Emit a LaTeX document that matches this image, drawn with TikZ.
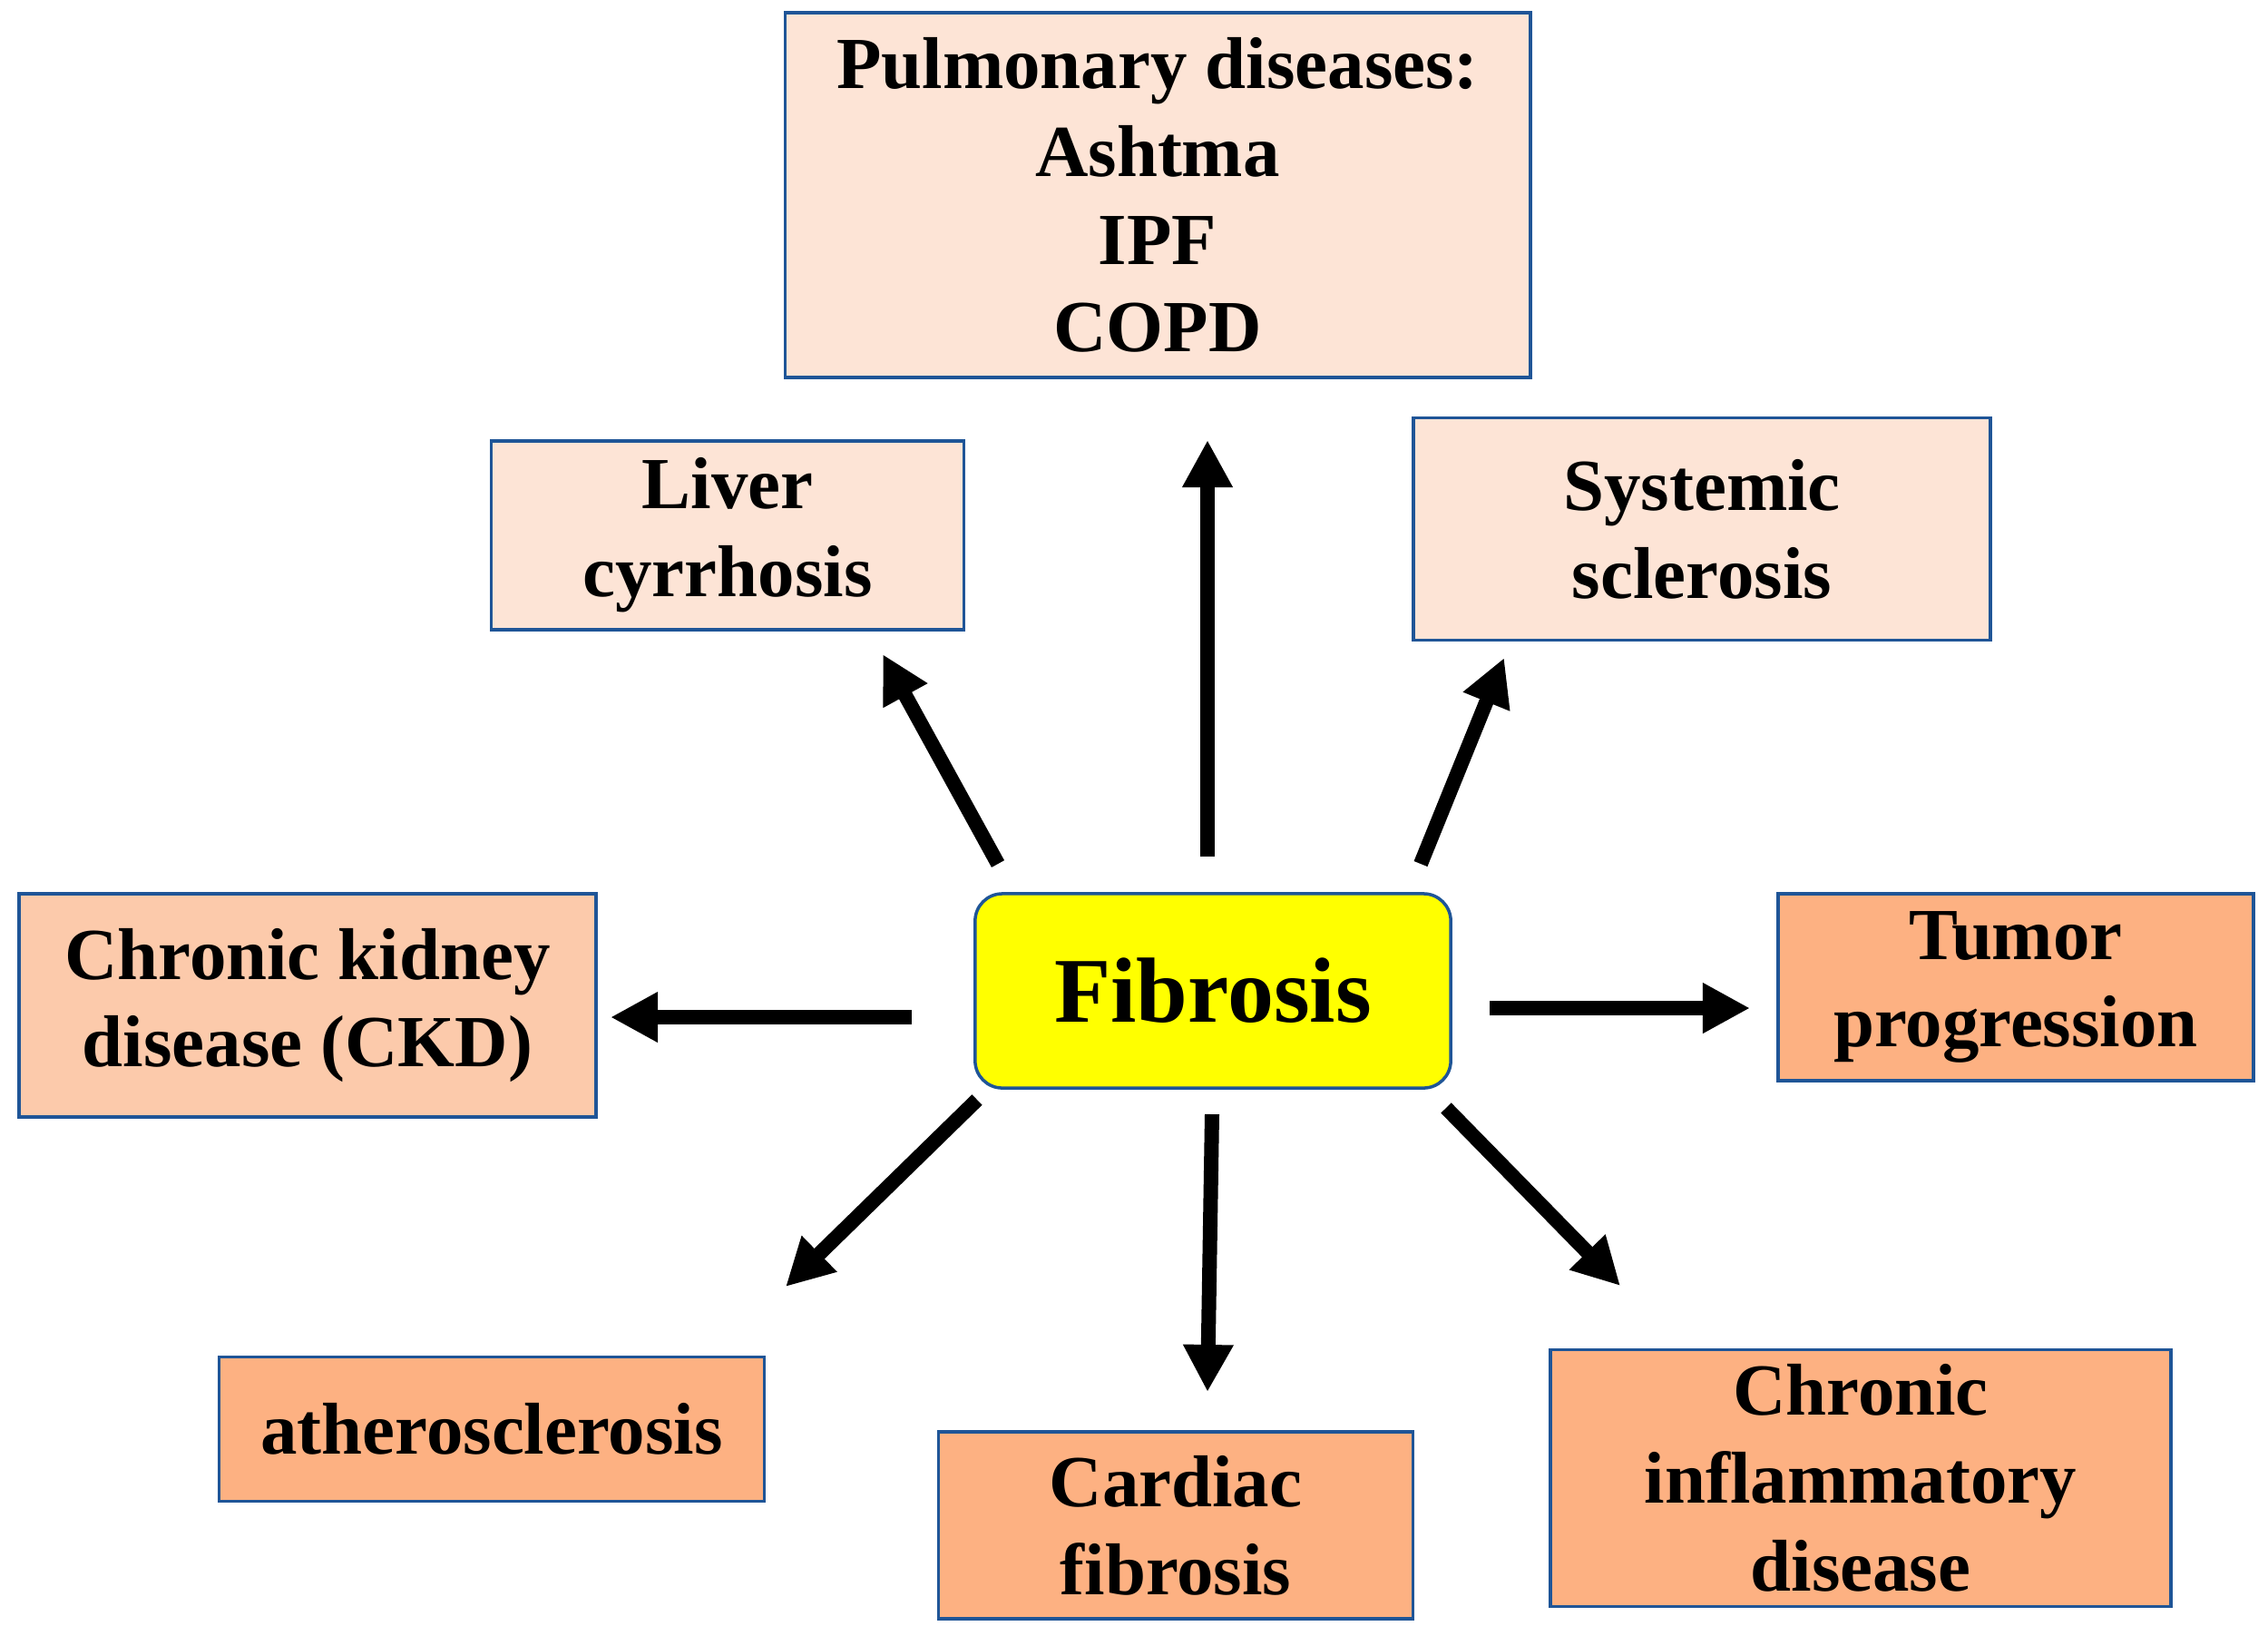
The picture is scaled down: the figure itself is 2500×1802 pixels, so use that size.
\documentclass[tikz,border=0pt]{standalone}
\usepackage{fontspec}
\setmainfont{Liberation Serif}
\usepackage{xcolor}
\usepackage{tikz}
\usetikzlibrary{positioning,arrows.meta}

\definecolor{boxblue}{HTML}{1F5597}
\definecolor{peachA}{HTML}{FDE4D6}
\definecolor{peachB}{HTML}{FCCAAB}
\definecolor{peachC}{HTML}{FDB182}
\definecolor{fibyellow}{HTML}{FFFF00}

\tikzset{
	disbox/.style={draw=boxblue,line width=1pt,align=center,inner sep=0pt,
		font=\fontsize{23}{27.5}\selectfont\bfseries},
	arr/.style={line width=0.16cm,-{Triangle[length=0.52cm,width=0.52cm]}}
}

\begin{document}
\begin{tikzpicture}[x=0.01cm,y=-0.01cm]
			
			\useasboundingbox (0,0) rectangle (2500,1802);
			
			\node[disbox,fill=fibyellow,rounded corners=0.3cm,minimum width=5.24cm,minimum height=2.14cm,
				font=\fontsize{29}{34}\selectfont\bfseries] (fib) at (1337,1092) {Fibrosis};
			
			\node[disbox,fill=peachA,minimum width=8.21cm,minimum height=4.02cm] (pulm) at (1276,215) {Pulmonary diseases:\\Ashtma\\IPF\\COPD};
			\node[disbox,fill=peachA,minimum width=5.21cm,minimum height=2.08cm] (liver) at (802,590) {Liver\\cyrrhosis};
			\node[disbox,fill=peachA,minimum width=6.36cm,minimum height=2.45cm] (syst) at (1876,583) {Systemic\\sclerosis};
			\node[disbox,fill=peachB,minimum width=6.36cm,minimum height=2.46cm] (ckd) at (339,1108) {Chronic kidney\\disease (CKD)};
			\node[disbox,fill=peachC,minimum width=5.24cm,minimum height=2.06cm] (tumor) at (2222,1088) {Tumor\\progression};
			\node[disbox,fill=peachC,minimum width=6.01cm,minimum height=1.59cm] (ath) at (542,1575) {atherosclerosis};
			\node[disbox,fill=peachC,minimum width=5.23cm,minimum height=2.06cm] (card) at (1296,1681) {Cardiac\\fibrosis};
			\node[disbox,fill=peachC,minimum width=6.84cm,minimum height=2.83cm] (infl) at (2051,1629) {Chronic\\inflammatory\\disease};
			
			% arrow ends
			\coordinate (upS) at (1331,944);   \coordinate (upE) at (1331,485);
			\coordinate (livS) at (1100,952);  \coordinate (livE) at (973,721);
			\coordinate (sysS) at (1566,952);  \coordinate (sysE) at (1658,725);
			\coordinate (ckdS) at (1005,1121); \coordinate (ckdE) at (673,1121);
			\coordinate (tumS) at (1642,1111); \coordinate (tumE) at (1929,1111);
			\coordinate (athS) at (1077,1212); \coordinate (athE) at (866,1418);
			\coordinate (carS) at (1336,1228); \coordinate (carE) at (1331,1534);
			\coordinate (infS) at (1594,1221); \coordinate (infE) at (1786,1417);
			
			\draw[arr] (upS) -- (upE);
			\draw[arr] (livS) -- (livE);
			\draw[arr] (sysS) -- (sysE);
			\draw[arr] (ckdS) -- (ckdE);
			\draw[arr] (tumS) -- (tumE);
			\draw[arr] (athS) -- (athE);
			\draw[arr] (carS) -- (carE);
			\draw[arr] (infS) -- (infE);
			
		\end{tikzpicture}
\end{document}
